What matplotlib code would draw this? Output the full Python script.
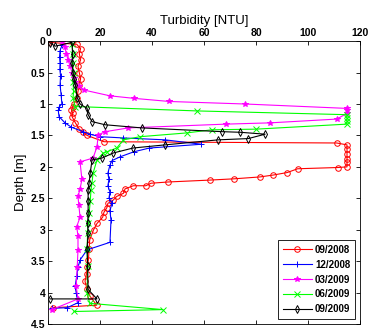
import matplotlib
matplotlib.use('Agg')
import matplotlib.pyplot as plt

plt.rcParams['font.family'] = ['Liberation Sans', 'DejaVu Sans']

# turbidity profiles: (NTU, depth in m)
ntu_0908 = [0.5, 11, 12.5, 12, 12.5, 11.5, 12, 12.5, 12, 11.5, 11, 10, 9.5, 9, 9.5, 9.2, 10.5,
            12, 13.5, 15, 21.5,
            111, 115, 115, 115, 115, 115, 115, 111.5, 96, 92, 86.6, 81.5, 71.5, 62.3, 46.3,
            39.6, 37.6, 32.8, 29.6, 29, 26.4, 25, 23, 22.6, 21.5, 21, 18.8, 17.5, 16, 15.8,
            15.5, 15, 14.8, 14.2, 15, 16, 18.7, 2]
dep_0908 = [0.02, 0.05, 0.12, 0.2, 0.3, 0.4, 0.5, 0.6, 0.7, 0.8, 0.9, 1.0, 1.05, 1.1, 1.15,
            1.2, 1.3, 1.4, 1.45, 1.5, 1.6,
            1.62, 1.65, 1.72, 1.8, 1.87, 1.93, 2.0, 2.01, 2.03, 2.09, 2.13, 2.16, 2.19, 2.21,
            2.24, 2.26, 2.3, 2.3, 2.35, 2.42, 2.47, 2.53, 2.58, 2.65, 2.72, 2.8, 2.9, 3.0,
            3.16, 3.3, 3.48, 3.6, 3.7, 3.82, 3.95, 4.05, 4.2, 4.24]

ntu_1208 = [5.4, 4.6, 4.4, 4.6, 4.5, 4.8, 4.6, 5.0, 5.3, 4.2, 3.9, 4.2, 6.5, 9, 13.5, 16, 20,
            29, 45, 59, 39, 33, 27.7, 24.6, 23.8, 23, 23.4, 23, 23.8, 23.4, 24.6, 23.8, 24.2,
            23.8, 15, 12.3, 11.5, 11, 10.4, 10.8, 11.5, 7.3, 1.5]
dep_1208 = [0.06, 0.15, 0.25, 0.35, 0.45, 0.55, 0.7, 0.85, 1.0, 1.05, 1.1, 1.2, 1.3, 1.37,
            1.44, 1.48, 1.52, 1.54, 1.57, 1.64, 1.7, 1.76, 1.84, 1.9, 1.97, 2.1, 2.2, 2.3,
            2.4, 2.5, 2.57, 2.7, 2.85, 3.2, 3.32, 3.48, 3.6, 3.74, 3.9, 4.0, 4.16, 4.24, 4.25]

ntu_0309 = [5.4, 6.5, 7.0, 7.7, 8.5, 9.2, 10, 10.5, 12, 14, 23.8, 33, 46.7, 75.8, 115, 115,
            115, 111, 85.4, 68.5, 30.9, 22, 19.3, 18.8, 17.3, 12.3, 13, 12.3, 11.5, 11.8,
            12.3, 11, 11.5, 11.5, 11.2, 10.8, 11.5, 1.5]
dep_0309 = [0.02, 0.1, 0.2, 0.3, 0.4, 0.5, 0.58, 0.65, 0.72, 0.78, 0.87, 0.91, 0.96, 1.0,
            1.07, 1.1, 1.15, 1.24, 1.3, 1.32, 1.38, 1.44, 1.49, 1.68, 1.86, 1.92, 2.2, 2.35,
            2.47, 2.6, 2.8, 2.95, 3.1, 3.32, 3.6, 3.9, 4.1, 4.27]

ntu_0609 = [9.2, 9.6, 9.4, 9.8, 9.6, 9.8, 9.6, 10.4, 57.2, 115, 115, 115, 115, 80, 63, 53.3,
            35.4, 29, 26.4, 22.6, 21.2, 18.8, 17.3, 16.9, 16.5, 16.2, 15.8, 15.4, 15.2, 15,
            15.2, 15, 16, 44.2, 10]
dep_0609 = [0.05, 0.2, 0.35, 0.5, 0.65, 0.8, 0.9, 1.04, 1.11, 1.17, 1.22, 1.27, 1.32, 1.4,
            1.41, 1.46, 1.52, 1.57, 1.7, 1.76, 1.78, 1.89, 2.1, 2.25, 2.37, 2.55, 2.73, 2.9,
            3.05, 3.3, 3.58, 4.0, 4.17, 4.27, 4.3]

ntu_0909 = [0.8, 2.7, 9.2, 9.4, 9.2, 9.6, 10, 10.5, 11.2, 12.3, 15, 15.4, 16.9, 21.9, 36, 67,
            74, 83.5, 77, 65.5, 45, 32.7, 25, 20.7, 16.9, 16.2, 15.8, 15.4, 15.4, 15.4, 15.2,
            15.4, 15, 15.2, 15.4, 18.8, 0.8]
dep_0909 = [0.03, 0.08, 0.02, 0.2, 0.35, 0.5, 0.6, 0.7, 0.9, 1.0, 1.07, 1.17, 1.28, 1.33,
            1.38, 1.44, 1.45, 1.48, 1.55, 1.57, 1.65, 1.7, 1.78, 1.86, 1.89, 2.1, 2.25, 2.37,
            2.55, 2.73, 2.9, 3.05, 3.3, 3.58, 3.95, 4.1, 4.1]

series = [
    (ntu_0908, dep_0908, '09/2008', '#ff0000', 'o'),
    (ntu_1208, dep_1208, '12/2008', '#0000ff', '+'),
    (ntu_0309, dep_0309, '03/2009', '#ff00ff', '*'),
    (ntu_0609, dep_0609, '06/2009', '#00ff00', 'x'),
    (ntu_0909, dep_0909, '09/2009', '#000000', 'd'),
]

fig = plt.figure(figsize=(3.7, 3.29), dpi=100)
ax = fig.add_axes([0.13, 0.015, 0.843, 0.86])

for x, y, label, color, marker in series:
    ax.plot(x, y, color=color, marker=marker, markersize=4, linewidth=0.8,
            markerfacecolor='none' if marker in 'od' else color, markeredgewidth=0.7,
            label=label)

ax.set_xlim(0, 120)
ax.set_ylim(4.5, 0)
ax.set_xticks([0, 20, 40, 60, 80, 100, 120])
ax.set_yticks([0, 0.5, 1, 1.5, 2, 2.5, 3, 3.5, 4, 4.5])
ax.set_yticklabels(['0', '0.5', '1', '1.5', '2', '2.5', '3', '3.5', '4', '4.5'])
ax.xaxis.tick_top()
ax.xaxis.set_label_position('top')
ax.tick_params(direction='in', top=True, bottom=True, left=True, right=True,
               labelsize=7.5, length=3, width=0.6, pad=2)
for lab in ax.get_xticklabels() + ax.get_yticklabels():
    lab.set_fontweight('bold')
for sp in ax.spines.values():
    sp.set_linewidth(0.6)
ax.set_xlabel('Turbidity [NTU]', fontsize=9.5, labelpad=3)
ax.set_ylabel('Depth [m]', fontsize=9.5, labelpad=3)

leg = ax.legend(loc='lower right', prop={'weight': 'bold', 'size': 7},
                fancybox=False, edgecolor='black', framealpha=1, handlelength=3,
                borderpad=0.5, labelspacing=0.5, handletextpad=0.3)
leg.get_frame().set_linewidth(0.6)

fig.savefig('out.png', dpi=100)
